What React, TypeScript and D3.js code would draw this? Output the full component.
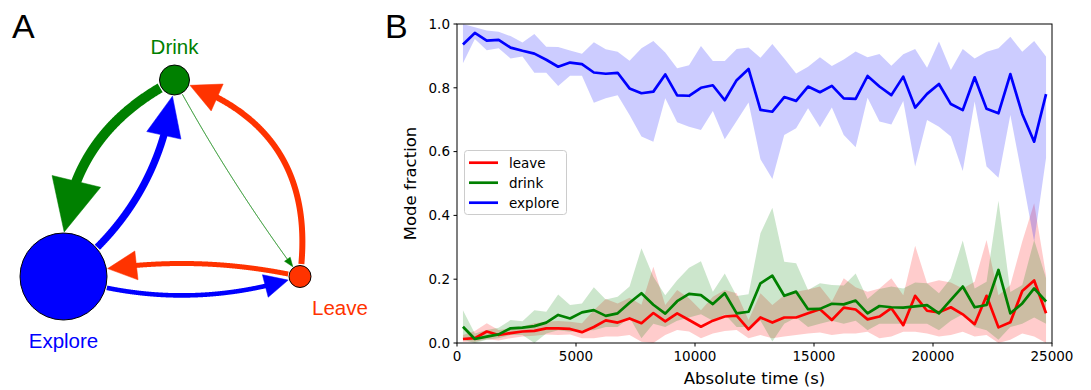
import React from 'react';
import * as d3 from 'd3';

// ---------------- DATA (panel B) ----------------
const timeBins = [
  250, 750, 1250, 1750, 2250, 2750, 3250, 3750, 4250, 4750,
  5250, 5750, 6250, 6750, 7250, 7750, 8250, 8750, 9250, 9750,
  10250, 10750, 11250, 11750, 12250, 12750, 13250, 13750, 14250, 14750,
  15250, 15750, 16250, 16750, 17250, 17750, 18250, 18750, 19250, 19750,
  20250, 20750, 21250, 21750, 22250, 22750, 23250, 23750, 24250, 24750,
];

const leaveMean = [
  0.0125, 0.015, 0.036, 0.025, 0.031, 0.036, 0.038, 0.046, 0.046, 0.044, 0.034, 0.050, 0.071, 0.064, 0.077, 0.062, 0.094,
  0.068, 0.093, 0.072, 0.051, 0.070, 0.083, 0.086, 0.043, 0.080, 0.064, 0.080, 0.080, 0.093, 0.106, 0.072, 0.111,
  0.105, 0.074, 0.083, 0.109, 0.056, 0.148, 0.101, 0.096, 0.112, 0.090, 0.059, 0.148, 0.049, 0.065, 0.163, 0.196, 0.093,
];
const leaveUpper = [
  0.025, 0.038, 0.062, 0.041, 0.046, 0.051, 0.062, 0.067, 0.069, 0.067, 0.062, 0.103, 0.138, 0.124, 0.142, 0.12, 0.239,
  0.119, 0.166, 0.14, 0.103, 0.145, 0.166, 0.156, 0.072, 0.156, 0.119, 0.15, 0.161, 0.168, 0.177, 0.13, 0.203,
  0.175, 0.161, 0.171, 0.203, 0.15, 0.305, 0.187, 0.197, 0.19, 0.171, 0.192, 0.323, 0.15, 0.182, 0.318, 0.438, 0.213,
];
const leaveLower = [
  0.004, 0.004, 0.012, 0.008, 0.015, 0.02, 0.023, 0.027, 0.025, 0.027, 0.015, 0.015, 0.02, 0.02, 0.025, 0.004, 0.0,
  0.025, 0.041, 0.036, 0.015, 0.03, 0.038, 0.041, 0.015, 0.025, 0.015, 0.02, 0.025, 0.03, 0.033, 0.025, 0.03,
  0.03, 0.035, 0.015, 0.02, 0.035, 0.035, 0.03, 0.02, 0.025, 0.035, 0.02, 0.025, 0.0, 0.01, 0.03, 0.02, 0.0,
];

const drinkMean = [
  0.051, 0.0125, 0.020, 0.027, 0.046, 0.048, 0.053, 0.064, 0.088, 0.077, 0.096, 0.103, 0.085, 0.093, 0.126, 0.156, 0.12,
  0.092, 0.131, 0.154, 0.150, 0.122, 0.156, 0.093, 0.098, 0.187, 0.211, 0.148, 0.161, 0.106, 0.107, 0.123, 0.121,
  0.133, 0.093, 0.116, 0.112, 0.111, 0.115, 0.119, 0.093, 0.135, 0.177, 0.112, 0.119, 0.229, 0.093, 0.124, 0.171, 0.130,
];
const drinkUpper = [
  0.103, 0.03, 0.041, 0.048, 0.072, 0.068, 0.103, 0.098, 0.152, 0.119, 0.124, 0.175, 0.136, 0.145, 0.177, 0.297, 0.208,
  0.150, 0.197, 0.236, 0.256, 0.161, 0.218, 0.147, 0.153, 0.344, 0.424, 0.255, 0.25, 0.166, 0.187, 0.182, 0.18,
  0.218, 0.138, 0.169, 0.177, 0.171, 0.19, 0.187, 0.156, 0.203, 0.321, 0.171, 0.192, 0.446, 0.16, 0.182, 0.323, 0.203,
];
const drinkLower = [
  0.01, 0.0, 0.01, 0.015, 0.025, 0.025, 0.0, 0.03, 0.04, 0.035, 0.04, 0.04, 0.05, 0.05, 0.08, 0.015, 0.06,
  0.05, 0.07, 0.08, 0.09, 0.07, 0.09, 0.05, 0.05, 0.07, 0.005, 0.06, 0.08, 0.05, 0.06, 0.07, 0.06,
  0.07, 0.04, 0.06, 0.06, 0.06, 0.06, 0.06, 0.04, 0.07, 0.09, 0.05, 0.04, 0.01, 0.05, 0.06, 0.08, 0.06,
];

const exploreMean = [
  0.936, 0.972, 0.948, 0.950, 0.926, 0.916, 0.907, 0.888, 0.866, 0.879, 0.874, 0.848, 0.844, 0.847, 0.798, 0.783, 0.788,
  0.842, 0.776, 0.775, 0.800, 0.808, 0.761, 0.824, 0.859, 0.731, 0.725, 0.771, 0.759, 0.804, 0.786, 0.806, 0.767,
  0.765, 0.837, 0.804, 0.777, 0.835, 0.738, 0.781, 0.812, 0.749, 0.730, 0.833, 0.734, 0.720, 0.843, 0.718, 0.631, 0.780,
];
const exploreUpper = [
  1.0, 0.99, 0.98, 0.976, 0.962, 0.942, 0.969, 0.929, 0.928, 0.917, 0.907, 0.943, 0.921, 0.913, 0.885, 0.924, 0.947,
  0.911, 0.861, 0.871, 0.931, 0.884, 0.884, 0.922, 0.926, 0.894, 0.937, 0.892, 0.845, 0.866, 0.896, 0.868, 0.889,
  0.914, 0.896, 0.906, 0.869, 0.905, 0.922, 0.863, 0.945, 0.856, 0.922, 0.892, 0.913, 0.924, 0.960, 0.913, 0.947, 0.898,
];
const exploreLower = [
  0.877, 0.953, 0.918, 0.924, 0.892, 0.898, 0.847, 0.847, 0.806, 0.838, 0.838, 0.753, 0.767, 0.777, 0.715, 0.647, 0.631,
  0.767, 0.692, 0.678, 0.668, 0.727, 0.639, 0.696, 0.754, 0.576, 0.514, 0.652, 0.673, 0.736, 0.676, 0.738, 0.652,
  0.614, 0.769, 0.694, 0.685, 0.759, 0.553, 0.699, 0.678, 0.647, 0.539, 0.757, 0.553, 0.518, 0.715, 0.52, 0.318, 0.58,
];

const xTicks = [0, 5000, 10000, 15000, 20000, 25000];
const yTicks = [0, 0.2, 0.4, 0.6, 0.8, 1.0];
const seriesNames = ['leave', 'drink', 'explore'];

// ---------------- DATA (panel A) ----------------
const modes = ['Drink', 'Explore', 'Leave'];
const modeSize = [15, 43.5, 11];
const transFrom = ['Drink', 'Explore', 'Leave', 'Drink', 'Leave', 'Explore'];
const transTo = ['Explore', 'Drink', 'Drink', 'Leave', 'Explore', 'Leave'];
const transWeight = [10, 7.3, 6, 1, 5, 4.6];

// ---------------- STYLE / LAYOUT ----------------
const W = 1091;
const H = 390;
const PX0 = 457, PX1 = 1052, PY0 = 24, PY1 = 343;
const seriesColor: Record<string, string> = { leave: '#ff0000', drink: '#008000', explore: '#0000ff' };
const modeColor: Record<string, string> = { Drink: '#008000', Explore: '#0000ff', Leave: '#ff3300' };
const nodeLayout: Record<string, [number, number]> = {
  Drink: [174.5, 80],
  Explore: [63.5, 276.5],
  Leave: [300, 276.5],
};
// per-edge curvature and arrow-head size (length, half-width)
const edgeRad = [0.33, 0.22, 0.42, 0.035, 0.11, 0.16];
const headSize: [number, number][] = [[52, 25], [40, 17.5], [29.5, 14.7], [9, 3.5], [28.6, 14.5], [23.6, 11.6]];
const labelFont = 'Liberation Sans, Arial, sans-serif';
const mplFont = 'DejaVu Sans, sans-serif';

type P = [number, number];

function quad(p0: P, c: P, p2: P, t: number): P {
  const u = 1 - t;
  return [u * u * p0[0] + 2 * u * t * c[0] + t * t * p2[0], u * u * p0[1] + 2 * u * t * c[1] + t * t * p2[1]];
}
const dist = (a: P, b: P) => Math.hypot(a[0] - b[0], a[1] - b[1]);

function edgeGeom(i: number) {
  const s = nodeLayout[transFrom[i]];
  const t = nodeLayout[transTo[i]];
  const rs = modeSize[modes.indexOf(transFrom[i])];
  const rt = modeSize[modes.indexOf(transTo[i])];
  const dx = t[0] - s[0];
  const dy = t[1] - s[1];
  const rad = edgeRad[i];
  const c: P = [(s[0] + t[0]) / 2 - rad * dy, (s[1] + t[1]) / 2 + rad * dx];
  const N = 600;
  const pts: P[] = d3.range(N + 1).map((k) => quad(s, c, t, k / N));
  let k0 = 0;
  while (k0 < N && dist(pts[k0], s) < rs + 1) k0++;
  let k1 = N;
  while (k1 > 0 && dist(pts[k1], t) < rt + 1) k1--;
  const tip = pts[k1];
  const [L, hw] = headSize[i];
  let kb = k1;
  while (kb > 0 && dist(pts[kb], tip) < L) kb--;
  let ks = k1;
  while (ks > 0 && dist(pts[ks], tip) < L * 0.8) ks--;
  const base = pts[kb];
  const ux = (tip[0] - base[0]) / dist(tip, base);
  const uy = (tip[1] - base[1]) / dist(tip, base);
  const head: P[] = [tip, [base[0] - uy * hw, base[1] + ux * hw], [base[0] + uy * hw, base[1] - ux * hw]];
  const body = pts.slice(k0, ks + 1);
  return { body, head };
}

export default function App() {
  const x = d3.scaleLinear().domain([0, 25000]).range([PX0, PX1]);
  const y = d3.scaleLinear().domain([0, 1]).range([PY1, PY0]);

  const series = [
    { name: 'leave', mean: leaveMean, lo: leaveLower, hi: leaveUpper },
    { name: 'drink', mean: drinkMean, lo: drinkLower, hi: drinkUpper },
    { name: 'explore', mean: exploreMean, lo: exploreLower, hi: exploreUpper },
  ];

  const lineGen = d3
    .line<number>()
    .x((_, i) => x(timeBins[i]))
    .y((v) => y(v));
  const areaGen = (lo: number[], hi: number[]) =>
    d3
      .area<number>()
      .x((_, i) => x(timeBins[i]))
      .y0((v) => y(v))
      .y1((_, i) => y(hi[i]))(lo);

  const curve = d3.line<P>().x((p) => p[0]).y((p) => p[1]);

  return (
    <svg
      width={W}
      height={H}
      style={{ position: 'absolute', left: 0, top: 0, background: '#fff' }}
      xmlns="http://www.w3.org/2000/svg"
    >
      <rect x={0} y={0} width={W} height={H} fill="#fff" />
      {/* ---------- Panel A ---------- */}
      <text x={12} y={38} fontFamily={labelFont} fontSize={34} fill="#000">A</text>
      {transWeight.map((w, i) => {
        const g = edgeGeom(i);
        const col = modeColor[transFrom[i]];
        return (
          <g key={'e' + i}>
            <path d={curve(g.body) || ''} fill="none" stroke={col} strokeWidth={w} strokeLinecap="butt" />
            <polygon points={g.head.map((p) => p.join(',')).join(' ')} fill={col} stroke={col} strokeWidth={0.5} />
          </g>
        );
      })}
      {modes.map((m, i) => (
        <circle
          key={m}
          cx={nodeLayout[m][0]}
          cy={nodeLayout[m][1]}
          r={modeSize[i]}
          fill={modeColor[m]}
          stroke="#000"
          strokeWidth={1}
        />
      ))}
      <text x={174.5} y={54} textAnchor="middle" fontFamily={labelFont} fontSize={20.5} fill={modeColor.Drink}>Drink</text>
      <text x={63.5} y={348} textAnchor="middle" fontFamily={labelFont} fontSize={20.5} fill={modeColor.Explore}>Explore</text>
      <text x={312} y={315} textAnchor="start" fontFamily={labelFont} fontSize={20.5} fill={modeColor.Leave}>Leave</text>

      {/* ---------- Panel B ---------- */}
      <text x={385} y={38} fontFamily={labelFont} fontSize={34} fill="#000">B</text>
      <defs>
        <clipPath id="plotclip">
          <rect x={PX0} y={PY0} width={PX1 - PX0} height={PY1 - PY0} />
        </clipPath>
      </defs>
      <g clipPath="url(#plotclip)">
        {series.map((s) => (
          <path key={'a' + s.name} d={areaGen(s.lo, s.hi) || ''} fill={seriesColor[s.name]} fillOpacity={0.2} stroke="none" />
        ))}
        {series.map((s) => (
          <path
            key={'l' + s.name}
            d={lineGen(s.mean) || ''}
            fill="none"
            stroke={seriesColor[s.name]}
            strokeWidth={2.7}
            strokeLinejoin="round"
          />
        ))}
      </g>
      <rect x={PX0} y={PY0} width={PX1 - PX0} height={PY1 - PY0} fill="none" stroke="#000" strokeWidth={1} />
      {yTicks.map((t) => (
        <g key={'yt' + t}>
          <line x1={PX0 - 3.5} x2={PX0} y1={y(t)} y2={y(t)} stroke="#000" strokeWidth={1} />
          <text
            x={PX0 - 7}
            y={y(t)}
            dy="0.36em"
            textAnchor="end"
            fontFamily={mplFont}
            fontSize={13.5}
            fill="#000"
          >
            {t.toFixed(1)}
          </text>
        </g>
      ))}
      {xTicks.map((t) => (
        <g key={'xt' + t}>
          <line x1={x(t)} x2={x(t)} y1={PY1} y2={PY1 + 3.5} stroke="#000" strokeWidth={1} />
          <text x={x(t)} y={PY1 + 18} textAnchor="middle" fontFamily={mplFont} fontSize={13.5} fill="#000">
            {String(t)}
          </text>
        </g>
      ))}
      <text x={(PX0 + PX1) / 2} y={384} textAnchor="middle" fontFamily={mplFont} fontSize={16.5} fill="#000">
        Absolute time (s)
      </text>
      <text
        transform={`translate(416, ${(PY0 + PY1) / 2}) rotate(-90)`}
        textAnchor="middle"
        fontFamily={mplFont}
        fontSize={16.5}
        fill="#000"
      >
        Mode fraction
      </text>
      {/* legend */}
      <rect x={464.5} y={150.5} width={102} height={64} rx={3} fill="#fff" fillOpacity={0.8} stroke="#cccccc" strokeWidth={1} />
      {seriesNames.map((n, i) => (
        <g key={'lg' + n}>
          <line x1={469} x2={498} y1={162.7 + i * 20} y2={162.7 + i * 20} stroke={seriesColor[n]} strokeWidth={2.7} />
          <text x={509} y={162.7 + i * 20} dy="0.36em" fontFamily={mplFont} fontSize={13.5} fill="#000">
            {n}
          </text>
        </g>
      ))}
    </svg>
  );
}
